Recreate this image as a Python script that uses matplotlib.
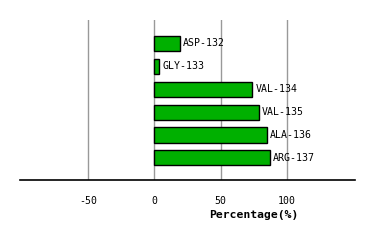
import matplotlib
matplotlib.use("Agg")
import matplotlib.pyplot as plt

residues = ["ASP-132", "GLY-133", "VAL-134", "VAL-135", "ALA-136", "ARG-137"]
values = [19.1, 3.8, 73.7, 78.5, 84.5, 86.8]
xticks = [-50, 0, 50, 100]

fig = plt.figure(figsize=(3.74, 2.40), dpi=100)
W, H = 374, 240
ax = fig.add_axes([20 / W, (H - 180.3) / H, 335 / W, 160.3 / H])

ypos = list(range(len(residues)))
ax.barh(ypos, values, height=0.66, color="#00b000", edgecolor="black", linewidth=1.0, zorder=3)
for y, v, name in zip(ypos, values, residues):
    ax.text(v + 2.6, y, name, va="center", ha="left", fontsize=7.1,
            family="DejaVu Sans Mono", zorder=4)

ax.set_xlim(-101, 151)
ax.set_ylim(len(residues) - 0.02, -1.02)
ax.set_xticks(xticks)
ax.set_xticklabels([str(t) for t in xticks], family="DejaVu Sans Mono", fontsize=7.1)
ax.tick_params(axis="x", length=0, pad=11)
ax.set_yticks([])
for t in xticks:
    ax.axvline(t, color="#999999", linewidth=1.0, zorder=1)
for s in ["top", "left", "right"]:
    ax.spines[s].set_visible(False)
ax.spines["bottom"].set_linewidth(1.2)
ax.spines["bottom"].set_zorder(5)

fig.text(254 / W, 1 - 215 / H, "Percentage(%)", ha="center", va="center",
         fontsize=8.2, fontweight="bold", family="DejaVu Sans Mono")

fig.savefig("out.png", dpi=100)
